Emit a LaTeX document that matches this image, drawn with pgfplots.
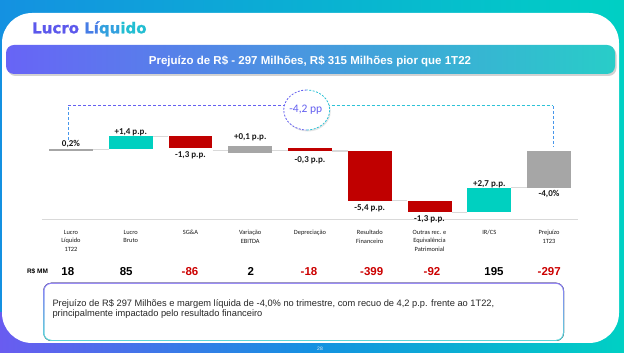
\documentclass[border=0pt]{standalone}
\usepackage{pgfplots}
\pgfplotsset{compat=1.18}
\usepackage{fontspec}
\setmainfont{Liberation Sans}
\newfontfamily\carlito{Carlito}
\newfontfamily\dejavub[FakeBold=1.2]{DejaVu Sans Bold}
\usetikzlibrary{shadows}

\definecolor{teal1}{RGB}{0,208,192}
\definecolor{red1}{RGB}{192,0,0}
\definecolor{gray1}{RGB}{166,166,166}
\definecolor{bgblue}{RGB}{20,145,225}
\definecolor{bgteal}{RGB}{0,208,196}
\definecolor{bgpurple}{RGB}{105,92,240}
\definecolor{banL}{RGB}{104,100,246}
\definecolor{banM}{RGB}{72,160,228}
\definecolor{banR}{RGB}{40,205,200}
\definecolor{dpurple}{RGB}{100,96,240}
\definecolor{dteal}{RGB}{45,195,215}
\definecolor{dblue}{RGB}{70,150,235}
\definecolor{vred}{RGB}{204,0,0}
\definecolor{t1}{RGB}{92,88,236}
\definecolor{t2}{RGB}{70,125,230}
\definecolor{t3}{RGB}{50,160,222}
\definecolor{t4}{RGB}{35,190,210}
\definecolor{boxP}{RGB}{140,125,245}
\definecolor{boxT}{RGB}{90,215,215}
\definecolor{conn}{RGB}{217,217,217}

\pgfplotsset{geom/.style={
  at={(42pt,133pt)}, anchor=south west,
  scale only axis, width=536pt, height=130.6pt,
  xmin=-0.485, xmax=8.485, ymin=-7.5, ymax=6.7, clip=false}}

\begin{document}
\begin{tikzpicture}[x=1pt,y=1pt]
\useasboundingbox (0,0) rectangle (624,353);
% background
\shade[left color=bgblue, right color=bgteal] (0,0) rectangle (624,353);
\shade[left color=bgpurple, right color=bgteal, middle color=bgblue] (0,0) rectangle (624,40);
% card
\fill[white, rounded corners=30pt] (2,10) rectangle (619,340);
% title
\node[anchor=base west, inner sep=0] at (32,319.7) {\dejavub\fontsize{15}{17}\selectfont
  \textcolor{t1}{Lucro} \textcolor{t2}{Lí}\textcolor{t3}{qu}\textcolor{t4}{ido}};
% banner
\path[drop shadow={opacity=0.35, shadow xshift=1.5pt, shadow yshift=-2pt},
      left color=banL, middle color=banM, right color=banR, rounded corners=8pt]
      (6,279) rectangle (615,308);
\node[anchor=base, inner sep=0, text=white] at (310,288.8)
  {\bfseries\fontsize{11.5}{13}\selectfont Prejuízo de R\$ - 297 Milhões, R\$ 315 Milhões pior que 1T22};

\begin{axis}[geom,
  axis x line=bottom, axis y line=none,
  x axis line style={draw=conn, line width=1pt, -},
  xtick={0,1,2,3,4,5,6,7,8},
  xticklabels={{Lucro\\Líquido\\1T22},{Lucro\\Bruto},{SG\&A},{Variação\\EBITDA},{Depreciação},{Resultado\\Financeiro},{Outras rec. e\\Equivalência\\Patrimonial},{IR/CS},{Prejuízo\\1T23}},
  xticklabel style={font=\carlito\fontsize{6.4}{8.3}\selectfont, align=center, anchor=north, yshift=-7pt, text=black!90},
  major tick length=0pt, ytick=\empty,
]
% connectors
\addplot[no markers, draw=conn, line width=1.2pt] coordinates {(0.37,0.2) (0.63,0.2)};
\addplot[no markers, draw=conn, line width=1.2pt] coordinates {(1.37,1.6) (1.63,1.6)};
\addplot[no markers, draw=conn, line width=1.2pt] coordinates {(2.37,0.1) (2.63,0.1)};
\addplot[no markers, draw=conn, line width=1.2pt] coordinates {(3.37,0.1) (3.63,0.1)};
\addplot[no markers, draw=conn, line width=1.2pt] coordinates {(4.37,0.0) (4.63,0.0)};
\addplot[no markers, draw=conn, line width=1.2pt] coordinates {(5.37,-5.4) (5.63,-5.4)};
\addplot[no markers, draw=conn, line width=1.2pt] coordinates {(6.37,-6.65) (6.63,-6.65)};
\addplot[no markers, draw=conn, line width=1.2pt] coordinates {(7.37,-4.0) (7.63,-4.0)};
% waterfall bars (floating: from start level to end level)
\addplot[draw=none, fill=gray1] coordinates {(-0.368,0) (0.368,0) (0.368,0.2) (-0.368,0.2)} -- cycle;
\addplot[draw=none, fill=teal1] coordinates {(0.632,0.2) (1.368,0.2) (1.368,1.6) (0.632,1.6)} -- cycle;
\addplot[draw=none, fill=red1] coordinates {(1.632,0.3) (2.368,0.3) (2.368,1.6) (1.632,1.6)} -- cycle;
\addplot[draw=none, fill=gray1] coordinates {(2.632,-0.2) (3.368,-0.2) (3.368,0.55) (2.632,0.55)} -- cycle;
\addplot[draw=none, fill=red1] coordinates {(3.632,0) (4.368,0) (4.368,0.28) (3.632,0.28)} -- cycle;
\addplot[draw=none, fill=red1] coordinates {(4.632,-5.4) (5.368,-5.4) (5.368,0) (4.632,0)} -- cycle;
\addplot[draw=none, fill=red1] coordinates {(5.632,-6.65) (6.368,-6.65) (6.368,-5.4) (5.632,-5.4)} -- cycle;
\addplot[draw=none, fill=teal1] coordinates {(6.632,-6.65) (7.368,-6.65) (7.368,-4.0) (6.632,-4.0)} -- cycle;
\addplot[draw=none, fill=gray1] coordinates {(7.632,-4.0) (8.368,-4.0) (8.368,0) (7.632,0)} -- cycle;
% dashed bracket
\addplot[no markers, draw=dblue, line width=1pt, dash pattern=on 3pt off 2pt] coordinates {(-0.045,1.2) (-0.045,4.9)};
\addplot[no markers, draw=dpurple, line width=1pt, dash pattern=on 3pt off 2pt] coordinates {(-0.045,4.9) (3.945,4.9)};
\addplot[no markers, draw=dteal, line width=1pt, dash pattern=on 3pt off 2pt] coordinates {(3.945,4.9) (8.07,4.9)};
\addplot[no markers, draw=dblue, line width=1pt, dash pattern=on 3pt off 2pt] coordinates {(8.07,4.9) (8.07,0.47)};
% circle
\coordinate (cc) at (axis cs:3.945,4.46);
\fill[white, drop shadow={opacity=0.2, shadow xshift=1pt, shadow yshift=-1.5pt}] (cc) ellipse[x radius=23pt, y radius=20pt];
\draw[dpurple, line width=0.8pt, dash pattern=on 2pt off 1.5pt] ([yshift=20pt]cc) arc[start angle=90, end angle=270, x radius=23pt, y radius=20pt];
\draw[dteal, line width=0.8pt, dash pattern=on 2pt off 1.5pt] ([yshift=-20pt]cc) arc[start angle=-90, end angle=90, x radius=23pt, y radius=20pt];
\node[text=dpurple, font=\carlito\fontsize{11.5}{13}\selectfont] at (axis cs:3.93,4.46) {-4,2 pp};
% value labels
\begin{scope}[every node/.style={font=\carlito\bfseries\fontsize{9}{10}\selectfont, text=black!90, inner sep=0}]
\node at (axis cs:0,0.73) {0,2\%};
\node at (axis cs:1,1.99) {+1,4 p.p.};
\node at (axis cs:2,-0.43) {-1,3 p.p.};
\node at (axis cs:3,1.49) {+0,1 p.p.};
\node at (axis cs:4,-0.98) {-0,3 p.p.};
\node at (axis cs:5,-6.27) {-5,4 p.p.};
\node at (axis cs:6,-7.47) {-1,3 p.p.};
\node at (axis cs:7,-3.66) {+2,7 p.p.};
\node at (axis cs:8,-4.71) {-4,0\%};
\end{scope}
\end{axis}

% R$ MM row
\node[font=\bfseries\fontsize{6.5}{7}\selectfont, inner sep=0] at (37.5,81.3) {R\$ MM};
\begin{scope}[every node/.style={font=\bfseries\fontsize{11.5}{13}\selectfont, inner sep=0, anchor=base}]
\node at (67.8,77.2) {18};
\node at (126.2,77.2) {85};
\node[text=vred] at (190,77.2) {-86};
\node at (250.7,77.2) {2};
\node[text=vred] at (309,77.2) {-18};
\node[text=vred] at (371.7,77.2) {-399};
\node[text=vred] at (432,77.2) {-92};
\node at (494,77.2) {195};
\node[text=vred] at (549.2,77.2) {-297};
\end{scope}

% text box
\fill[top color=boxP, bottom color=boxT, rounded corners=8pt] (43.3,12) rectangle (564,70.3);
\fill[white, rounded corners=7pt] (44.5,13.2) rectangle (562.8,69.1);
\node[anchor=base west, inner sep=0, text=black!85, font=\fontsize{9.3}{10}\selectfont] at (52.3,46.4)
  {Prejuízo de R\$ 297 Milhões e margem líquida de -4,0\% no trimestre, com recuo de 4,2 p.p. frente ao 1T22,};
\node[anchor=base west, inner sep=0, text=black!85, font=\fontsize{9.3}{10}\selectfont] at (52.3,36.4)
  {principalmente impactado pelo resultado financeiro};
\node[text=white!85!gray, font=\fontsize{5}{6}\selectfont, inner sep=0] at (320,4) {28};
\end{tikzpicture}
\end{document}
